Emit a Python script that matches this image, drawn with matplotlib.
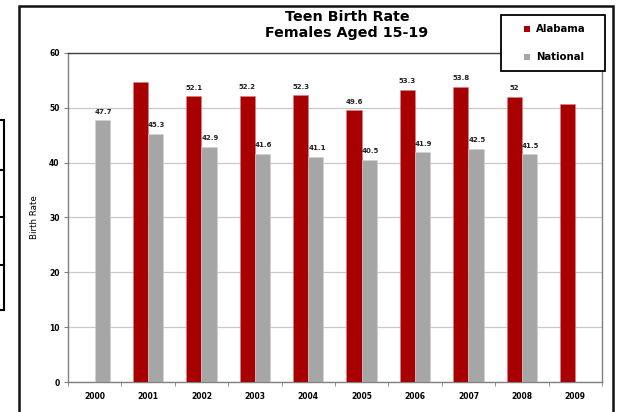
import numpy as np
import matplotlib.pyplot as plt
from matplotlib.patches import Rectangle
from matplotlib.lines import Line2D

years = ['2000', '2001', '2002', '2003', '2004', '2005', '2006', '2007', '2008', '2009']
alabama = [np.nan, 54.7, 52.1, 52.2, 52.3, 49.6, 53.3, 53.8, 52.0, 50.7]
national = [47.7, 45.3, 42.9, 41.6, 41.1, 40.5, 41.9, 42.5, 41.5, np.nan]
alabama_labels = ['', '', '52.1', '52.2', '52.3', '49.6', '53.3', '53.8', '52', '']
national_labels = ['47.7', '45.3', '42.9', '41.6', '41.1', '40.5', '41.9', '42.5', '41.5', '']
series = ['Alabama', 'National']

red = '#A80000'
gray = '#A6A6A6'

W, H = 618, 412
fig = plt.figure(figsize=(W / 100, H / 100), dpi=100)
ax = fig.add_axes([0.110, 0.0728, 0.864, 0.7986])

x = np.arange(len(years))
w = 0.285
ax.bar(x - w / 2, alabama, w, color=red, edgecolor='#E08080', linewidth=0.4, zorder=3)
ax.bar(x + w / 2, national, w, color=gray, edgecolor='#D0D0D0', linewidth=0.4, zorder=3)

for i in range(len(years)):
    if alabama_labels[i]:
        ax.text(x[i] - w / 2, alabama[i] + 1.0, alabama_labels[i], ha='center', va='bottom',
                fontsize=5, fontweight='bold', color='#222222')
    if national_labels[i]:
        ax.text(x[i] + w / 2 + 0.02, national[i] + 1.0, national_labels[i], ha='center', va='bottom',
                fontsize=5, fontweight='bold', color='#222222')

ax.set_xlim(-0.5, len(years) - 0.5)
ax.set_ylim(0, 60)
ax.set_yticks(range(0, 61, 10))
ax.set_xticks(x)
ax.set_xticklabels(years)
ax.set_xticks(np.arange(-0.5, len(years), 1), minor=True)
ax.tick_params(axis='x', which='major', length=0, labelsize=5.5, pad=7)
ax.tick_params(axis='x', which='minor', length=3, color='#808080', direction='out')
ax.tick_params(axis='y', length=3, color='#808080', labelsize=5.5, pad=3)
for lab in ax.get_xticklabels() + ax.get_yticklabels():
    lab.set_fontweight('bold')
ax.yaxis.grid(True, color='#C8C8C8', linewidth=0.9, zorder=0)
ax.set_axisbelow(True)
for s in ['left', 'bottom', 'right']:
    ax.spines[s].set_color('#808080')
    ax.spines[s].set_linewidth(1.0)
ax.spines['top'].set_color('#404040')
ax.spines['top'].set_linewidth(1.0)

ax.set_ylabel('Birth Rate', fontsize=6.3, fontfamily='Liberation Sans Narrow', labelpad=7)
ax.set_xlabel('Year', fontsize=6.5, fontweight='bold', labelpad=11)

fig.text(347 / W, 1 - 25 / H, 'Teen Birth Rate\nFemales Aged 15-19', ha='center', va='center',
         fontsize=10.3, fontweight='bold', linespacing=1.2)

# legend box, drawn by hand to match the original's spacing
fig.patches.append(Rectangle((501 / W, 1 - 71 / H), 104 / W, 56 / H, transform=fig.transFigure,
                             facecolor='white', edgecolor='black', linewidth=1.3, zorder=5))
for name, color, yy in zip(series, [red, gray], [29, 57]):
    fig.patches.append(Rectangle((524 / W, 1 - (yy + 3) / H), 6 / W, 6 / H, transform=fig.transFigure,
                                 facecolor=color, edgecolor='none', zorder=6))
    fig.text(536 / W, 1 - yy / H, name, ha='left', va='center', fontsize=7.3,
             fontweight='bold', zorder=6)

# outer chart frame (cropped at the bottom)
fig.patches.append(Rectangle((19 / W, -0.1), (613 - 19) / W, 1.1 - 6 / H,
                             transform=fig.transFigure, fill=False,
                             edgecolor='#111111', linewidth=1.8))

# fragment of a neighbouring box at the left edge
fx = 4 / W
for yy in [120, 170, 217, 265, 310]:
    fig.lines.append(Line2D([0, fx], [1 - yy / H, 1 - yy / H], transform=fig.transFigure,
                            color='black', linewidth=1.5))
fig.lines.append(Line2D([fx, fx], [1 - 120 / H, 1 - 310 / H], transform=fig.transFigure,
                        color='black', linewidth=1.5))

fig.savefig('out.png', dpi=100)
